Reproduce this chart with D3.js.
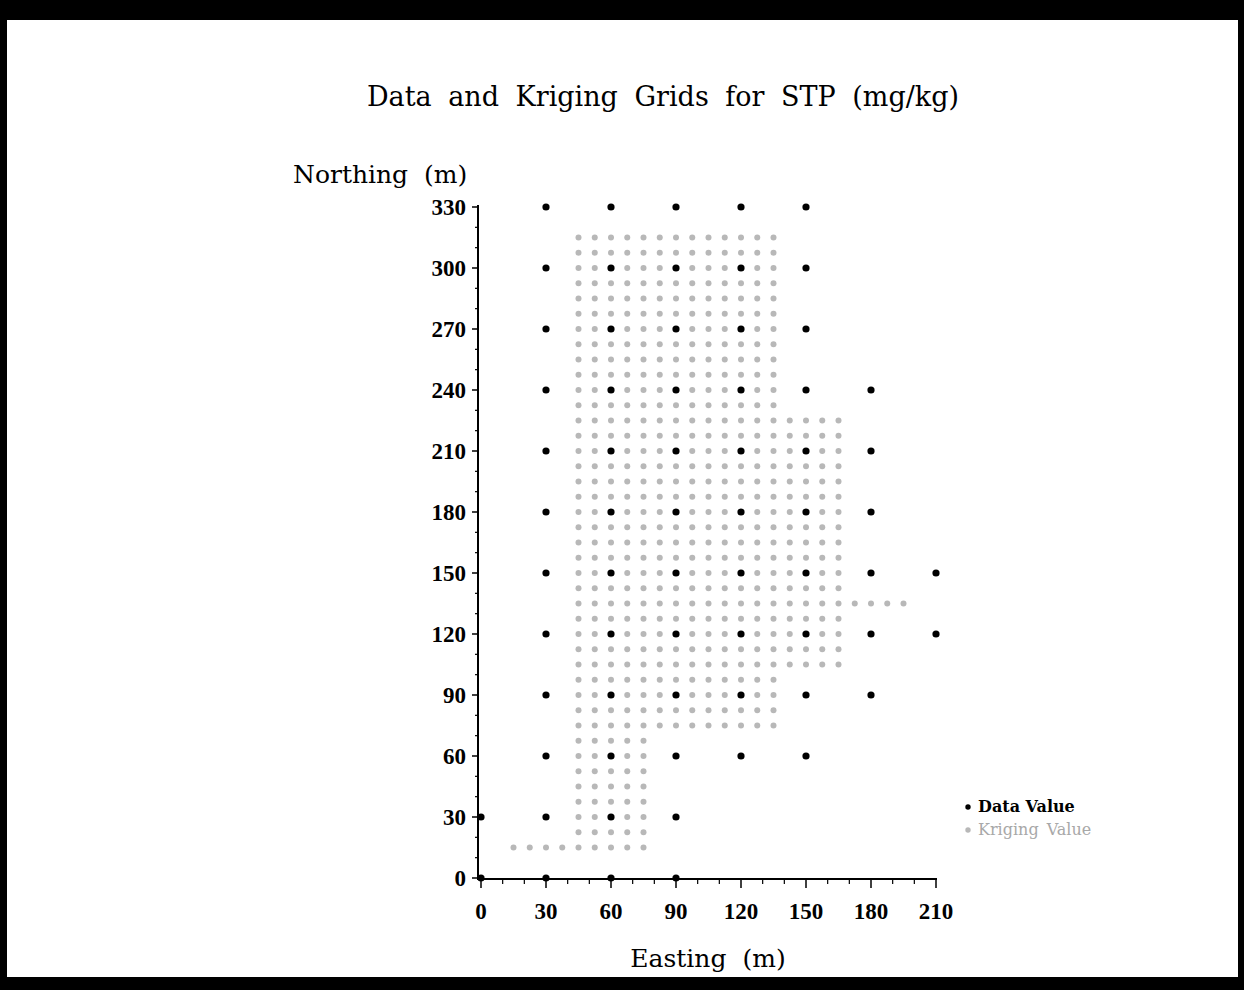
<!DOCTYPE html>
<html>
<head>
<meta charset="utf-8">
<script src="https://cdn.jsdelivr.net/npm/d3@7"></script>
<style>
  body { margin: 0; background: #fff; }
  text { font-family: "DejaVu Serif", serif; fill: #000; }
  .tick-label { font-family: "Liberation Serif", serif; font-weight: bold; font-size: 23px; }
</style>
</head>
<body>
<div id="chart"></div>
<script>
// sampled data locations (northing -> eastings)
var dataRows = [
	[330, [30, 60, 90, 120, 150]],
	[300, [30, 60, 90, 120, 150]],
	[270, [30, 60, 90, 120, 150]],
	[240, [30, 60, 90, 120, 150, 180]],
	[210, [30, 60, 90, 120, 150, 180]],
	[180, [30, 60, 90, 120, 150, 180]],
	[150, [30, 60, 90, 120, 150, 180, 210]],
	[120, [30, 60, 90, 120, 150, 180, 210]],
	[90, [30, 60, 90, 120, 150, 180]],
	[60, [30, 60, 90, 120, 150]],
	[30, [0, 30, 60, 90]],
	[0, [0, 30, 60, 90]]
];

// kriging grid rows: [northing, first easting, last easting], 7.5 m spacing
var krigStep = 7.5;
var krigRows = [
	[15, 15, 75], [22.5, 45, 75], [30, 45, 75], [37.5, 45, 75], [45, 45, 75],
	[52.5, 45, 75], [60, 45, 75], [67.5, 45, 75],
	[75, 45, 135], [82.5, 45, 135], [90, 45, 135], [97.5, 45, 135],
	[105, 45, 165], [112.5, 45, 165], [120, 45, 165], [127.5, 45, 165],
	[135, 45, 195],
	[142.5, 45, 165], [150, 45, 165], [157.5, 45, 165], [165, 45, 165],
	[172.5, 45, 165], [180, 45, 165], [187.5, 45, 165], [195, 45, 165],
	[202.5, 45, 165], [210, 45, 165], [217.5, 45, 165], [225, 45, 165],
	[232.5, 45, 135], [240, 45, 135], [247.5, 45, 135], [255, 45, 135],
	[262.5, 45, 135], [270, 45, 135], [277.5, 45, 135], [285, 45, 135],
	[292.5, 45, 135], [300, 45, 135], [307.5, 45, 135], [315, 45, 135]
];

var xTicks = [0, 30, 60, 90, 120, 150, 180, 210];
var yTicks = [0, 30, 60, 90, 120, 150, 180, 210, 240, 270, 300, 330];

var svgWidth = 1244;
var svgHeight = 990;

var svg = d3.select('#chart').append('svg')
	.attr('width', svgWidth)
	.attr('height', svgHeight);

// black frame
svg.append('rect').attr('x', 0).attr('y', 0).attr('width', svgWidth).attr('height', svgHeight).attr('fill', '#000');
svg.append('rect').attr('x', 7).attr('y', 20).attr('width', 1231).attr('height', 957).attr('fill', '#fff');

var x = d3.scaleLinear().domain([0, 210]).range([481, 936]);
var y = d3.scaleLinear().domain([0, 330]).range([878, 207]);

var axisX = 478;   // y axis line position
var axisY = 879;   // x axis line position

// minor ticks
svg.append('g').selectAll('line')
	.data(d3.range(0, 211, 10).filter(function(v) { return v % 30 !== 0; }))
	.enter().append('line')
	.attr('x1', d => x(d)).attr('x2', d => x(d))
	.attr('y1', axisY).attr('y2', axisY + 5)
	.attr('stroke', '#000').attr('stroke-width', 1.2);
svg.append('g').selectAll('line')
	.data(d3.range(0, 331, 10).filter(function(v) { return v % 30 !== 0; }))
	.enter().append('line')
	.attr('x1', axisX - 3).attr('x2', axisX)
	.attr('y1', d => y(d)).attr('y2', d => y(d))
	.attr('stroke', '#000').attr('stroke-width', 1.2);

// major ticks
svg.append('g').selectAll('line')
	.data(xTicks).enter().append('line')
	.attr('x1', d => x(d)).attr('x2', d => x(d))
	.attr('y1', axisY).attr('y2', axisY + 9)
	.attr('stroke', '#000').attr('stroke-width', 1.5);
svg.append('g').selectAll('line')
	.data(yTicks).enter().append('line')
	.attr('x1', axisX - 6).attr('x2', axisX)
	.attr('y1', d => y(d)).attr('y2', d => y(d))
	.attr('stroke', '#000').attr('stroke-width', 1.5);

// axis lines
svg.append('line').attr('x1', axisX - 1).attr('x2', x(210) + 1).attr('y1', axisY).attr('y2', axisY)
	.attr('stroke', '#000').attr('stroke-width', 2);
svg.append('line').attr('x1', axisX).attr('x2', axisX).attr('y1', axisY + 1).attr('y2', y(330) - 2)
	.attr('stroke', '#000').attr('stroke-width', 2);

// tick labels
svg.append('g').selectAll('text')
	.data(xTicks).enter().append('text')
	.attr('class', 'tick-label')
	.attr('x', d => x(d)).attr('y', 919)
	.attr('text-anchor', 'middle')
	.text(d => d);
svg.append('g').selectAll('text')
	.data(yTicks).enter().append('text')
	.attr('class', 'tick-label')
	.attr('x', 466).attr('y', d => y(d) + 8)
	.attr('text-anchor', 'end')
	.text(d => d);

// kriging grid
var krigPoints = [];
krigRows.forEach(function(r) {
	d3.range(r[1], r[2] + 0.01, krigStep).forEach(function(e) {
		krigPoints.push({ east: e, north: r[0] });
	});
});
svg.append('g').selectAll('circle')
	.data(krigPoints).enter().append('circle')
	.attr('cx', d => x(d.east)).attr('cy', d => y(d.north))
	.attr('r', 3)
	.attr('fill', '#b8b8b8');

// data points
var dataPoints = [];
dataRows.forEach(function(r) {
	r[1].forEach(function(e) { dataPoints.push({ east: e, north: r[0] }); });
});
svg.append('g').selectAll('circle')
	.data(dataPoints).enter().append('circle')
	.attr('cx', d => x(d.east)).attr('cy', d => y(d.north))
	.attr('r', 3.6)
	.attr('fill', '#000');

// titles
svg.append('text')
	.attr('x', 663).attr('y', 106)
	.attr('text-anchor', 'middle')
	.attr('font-size', '27px')
	.attr('word-spacing', '8px')
	.text('Data and Kriging Grids for STP (mg/kg)');

svg.append('text')
	.attr('x', 293).attr('y', 183)
	.attr('font-size', '25px')
	.attr('word-spacing', '8px')
	.text('Northing (m)');

svg.append('text')
	.attr('x', 708).attr('y', 967)
	.attr('text-anchor', 'middle')
	.attr('font-size', '25px')
	.attr('word-spacing', '8px')
	.text('Easting (m)');

// legend
svg.append('circle').attr('cx', 968).attr('cy', 807).attr('r', 2.7).attr('fill', '#000');
svg.append('text').attr('x', 978).attr('y', 812)
	.attr('font-size', '16px').attr('font-weight', 'bold')
	.text('Data Value');
svg.append('circle').attr('cx', 968).attr('cy', 830).attr('r', 2.7).attr('fill', '#b8b8b8');
svg.append('text').attr('x', 978).attr('y', 835)
	.attr('font-size', '16px')
	.attr('word-spacing', '3px')
	.style('fill', '#a8a8a8')
	.text('Kriging Value');
</script>
</body>
</html>
